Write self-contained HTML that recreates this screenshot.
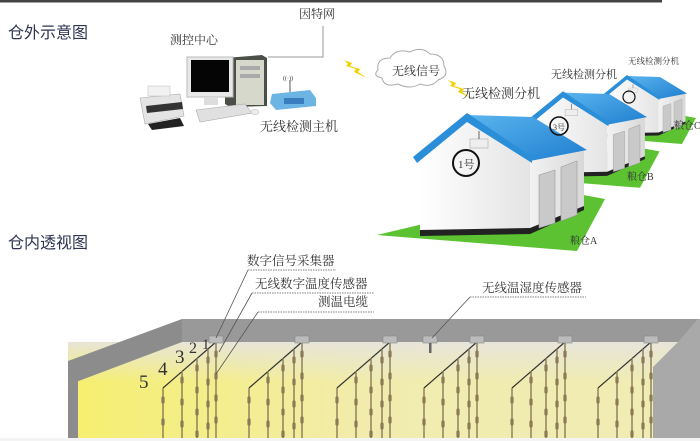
<!DOCTYPE html>
<html><head><meta charset="utf-8"><style>
html,body{margin:0;padding:0;background:#fff}
svg{display:block}
text{font-family:"Liberation Serif","Noto Serif CJK SC",serif;fill:#333}
.s{font-family:"Liberation Sans","Noto Sans CJK SC",sans-serif;fill:#2e3350}
</style></head><body>
<svg width="700" height="441" viewBox="0 0 700 441" xmlns="http://www.w3.org/2000/svg">
<defs>
<linearGradient id="yel" x1="0" y1="0" x2="1" y2="0">
<stop offset="0" stop-color="#f6ef6e"/><stop offset="0.5" stop-color="#f1ecae"/><stop offset="1" stop-color="#f0ecb4"/></linearGradient>
<linearGradient id="haze" x1="0" y1="0" x2="0" y2="1">
<stop offset="0" stop-color="#e6e4dc" stop-opacity="0.95"/><stop offset="1" stop-color="#e6e4dc" stop-opacity="0"/></linearGradient>
<linearGradient id="roof" x1="0" y1="0" x2="1" y2="1">
<stop offset="0" stop-color="#5ab4ee"/><stop offset="1" stop-color="#1f7fd0"/></linearGradient>
<linearGradient id="side" x1="0" y1="0" x2="1" y2="0">
<stop offset="0" stop-color="#f2f2f2"/><stop offset="1" stop-color="#d8d8d8"/></linearGradient>
<linearGradient id="front" x1="0" y1="0" x2="1" y2="0">
<stop offset="0" stop-color="#ffffff"/><stop offset="1" stop-color="#e4e4e4"/></linearGradient>
<g id="house">
<polygon points="-90,118 110,134 138,82 95,74" fill="#5cc232"/>
<polygon points="-47,40 0,2 63,42 63,115 -47,117" fill="url(#front)"/>
<polygon points="63,42 117,32 117,92 63,115" fill="url(#side)"/>
<polygon points="-47,113 63,111 117,89 117,93 63,117 -47,119" fill="#222"/>
<polygon points="0,-2 66,0 120,33 63,44" fill="url(#roof)"/>
<polygon points="-54,40 0,-4 65,40 65,46 0,5 -50,46" fill="#2a8ed8"/>
<polygon points="72,58 88,53 88,106 72,111" fill="#c9c9c9" stroke="#999" stroke-width="0.6"/>
<polygon points="94,50 110,44 110,98 94,104" fill="#c9c9c9" stroke="#999" stroke-width="0.6"/>
<rect x="3" y="22" width="18" height="9" fill="#eee" stroke="#aaa" stroke-width="0.6"/>
<line x1="12" y1="22" x2="12" y2="14" stroke="#666"/>
</g>
<g id="grp" stroke="#8a7a55" fill="none">
<line x1="216" y1="342" x2="163" y2="388" stroke="#333" stroke-width="1.2"/>
<g stroke-width="1.4">
<line x1="216" y1="342" x2="216" y2="438"/><line x1="208" y1="349" x2="208" y2="438"/><line x1="197" y1="358" x2="197" y2="438"/><line x1="182" y1="371" x2="182" y2="438"/><line x1="163" y1="388" x2="163" y2="438"/>
</g>
<g stroke-width="3.2" stroke-linecap="round" stroke-dasharray="4 18">
<line x1="216" y1="352" x2="216" y2="438"/><line x1="208" y1="358" x2="208" y2="438"/><line x1="197" y1="366" x2="197" y2="438"/><line x1="182" y1="378" x2="182" y2="438"/><line x1="163" y1="398" x2="163" y2="438"/>
</g>
<rect x="209" y="336" width="14" height="7" fill="#bbb" stroke="#888" stroke-width="0.6"/>
</g>
</defs>
<rect x="0" y="0" width="662" height="2.5" fill="#444"/>

<text class="s" x="8" y="38" font-size="16">仓外示意图</text>
<text x="299" y="18" font-size="12">因特网</text>
<polyline points="323,26 323,57 268,57" fill="none" stroke="#999" stroke-width="1"/>
<text x="170" y="44" font-size="12">测控中心</text>
<polygon points="225,58 262,55 267,58 267,106 230,107 225,104" fill="#4a5048"/>
<rect x="236" y="60" width="28" height="45" fill="#d6d8cc"/>
<rect x="240" y="66" width="20" height="4" fill="#aaa"/><rect x="240" y="74" width="20" height="4" fill="#aaa"/>
<rect x="187" y="57" width="46" height="40" fill="#e8e8e8" stroke="#bbb"/>
<rect x="191" y="60" width="38" height="32" fill="#050505"/>
<rect x="204" y="97" width="14" height="8" fill="#ddd"/>
<polygon points="196,110 245,104 252,113 200,122" fill="#e0e0e0" stroke="#aaa" stroke-width="0.6"/>
<ellipse cx="255" cy="112" rx="4" ry="2.5" fill="#eee" stroke="#aaa" stroke-width="0.5"/>
<polygon points="140,98 180,94 184,116 145,124" fill="#e4e4e4" stroke="#aaa" stroke-width="0.6"/>
<rect x="148" y="86" width="22" height="10" fill="#f2f2f2" stroke="#bbb" stroke-width="0.5"/>
<polygon points="146,106 182,102 183,109 147,113" fill="#333"/>
<polygon points="148,124 180,118 184,126 152,130" fill="#222"/>
<polygon points="272,94 310,90 316,98 316,106 276,110 270,103" fill="#6cb4e4"/>
<rect x="284" y="98" width="20" height="6" fill="#3b7ec0"/>
<line x1="290" y1="92" x2="290" y2="80" stroke="#555"/>
<text x="283" y="80" font-size="6" fill="#777">((·))</text>
<text x="260" y="131" font-size="13">无线检测主机</text>
<path d="M378,70 q-2,-12 12,-12 q6,-10 20,-6 q12,-6 20,2 q14,0 14,12 q6,10 -6,14 q-6,8 -18,4 q-10,6 -22,0 q-14,4 -16,-6 q-10,-2 -4,-8z" fill="#fff" stroke="#aaa" stroke-width="1"/>
<text x="392" y="75" font-size="12">无线信号</text>
<polygon points="344,60 352,63 350,66 360,69 358,72 367,78 354,72 356,69 346,66 348,64" fill="#f3d000"/>
<polygon points="448,80 456,83 454,86 464,89 462,92 471,98 458,92 460,89 450,86 452,84" fill="#f3d000"/>

<use href="#house" transform="translate(627,77) scale(0.5)"/>
<use href="#house" transform="translate(563,94) scale(0.7)"/>
<use href="#house" transform="translate(467,117)"/>
<circle cx="466" cy="163" r="13" fill="none" stroke="#111" stroke-width="2"/>
<text x="458" y="168" font-size="11">1号</text>
<circle cx="559" cy="126" r="9" fill="none" stroke="#111" stroke-width="1.6"/>
<text x="553" y="130" font-size="8">3号</text>
<circle cx="629" cy="97" r="6" fill="none" stroke="#111" stroke-width="1.2"/>
<text x="462" y="98" font-size="13">无线检测分机</text>
<text x="551" y="78" font-size="11">无线检测分机</text>
<text x="628" y="64" font-size="8.5">无线检测分机</text>
<text x="570" y="244" font-size="10">粮仓A</text>
<text x="627" y="180" font-size="10">粮仓B</text>
<text x="674" y="129" font-size="10">粮仓C</text>

<text class="s" x="8" y="248" font-size="16">仓内透视图</text>
<rect x="68" y="342" width="612" height="96" fill="url(#yel)"/>
<rect x="68" y="342" width="612" height="40" fill="url(#haze)"/>
<polygon points="182,319 698,319 698,342 182,342" fill="#999"/>
<polygon points="68,361 182,319 182,342 68,385" fill="#8c8c8c"/>
<polygon points="68,385 78,381 78,438 68,438" fill="#8c8c8c"/>
<polygon points="678,342 698,319 700,319 700,438 653,438 653,367" fill="#a9a9a9"/>
<rect x="0" y="438" width="700" height="3" fill="#f4f4f4"/>

<use href="#grp"/>
<use href="#grp" transform="translate(86,0)"/>
<use href="#grp" transform="translate(174,0)"/>
<use href="#grp" transform="translate(261,0)"/>
<use href="#grp" transform="translate(349,0)"/>
<use href="#grp" transform="translate(435,0)"/>
<rect x="423" y="336" width="14" height="7" fill="#bbb" stroke="#888" stroke-width="0.6"/>
<rect x="429" y="343" width="2.5" height="10" fill="#666"/>

<text x="139" y="388" font-size="19">5</text>
<text x="158" y="375" font-size="19">4</text>
<text x="175" y="363" font-size="19">3</text>
<text x="189" y="353" font-size="16">2</text>
<text x="202" y="349" font-size="15">1</text>

<g stroke="#555" stroke-width="0.8" fill="none">
<line x1="248" y1="270" x2="336" y2="270" stroke-dasharray="1.5 1"/>
<line x1="252" y1="293" x2="374" y2="293" stroke-dasharray="1.5 1"/>
<line x1="258" y1="312" x2="374" y2="312" stroke-dasharray="1.5 1"/>
<line x1="248" y1="270" x2="216" y2="338"/>
<line x1="252" y1="293" x2="219" y2="352"/>
<line x1="258" y1="312" x2="216" y2="374"/>
<line x1="470" y1="297" x2="586" y2="297" stroke-dasharray="1.5 1"/>
<line x1="470" y1="297" x2="432" y2="338"/>
</g>
<text x="247" y="265" font-size="12.5">数字信号采集器</text>
<text x="255" y="288" font-size="12.5">无线数字温度传感器</text>
<text x="318" y="306" font-size="12.5">测温电缆</text>
<text x="482" y="292" font-size="12.5">无线温湿度传感器</text>
</svg>
</body></html>
